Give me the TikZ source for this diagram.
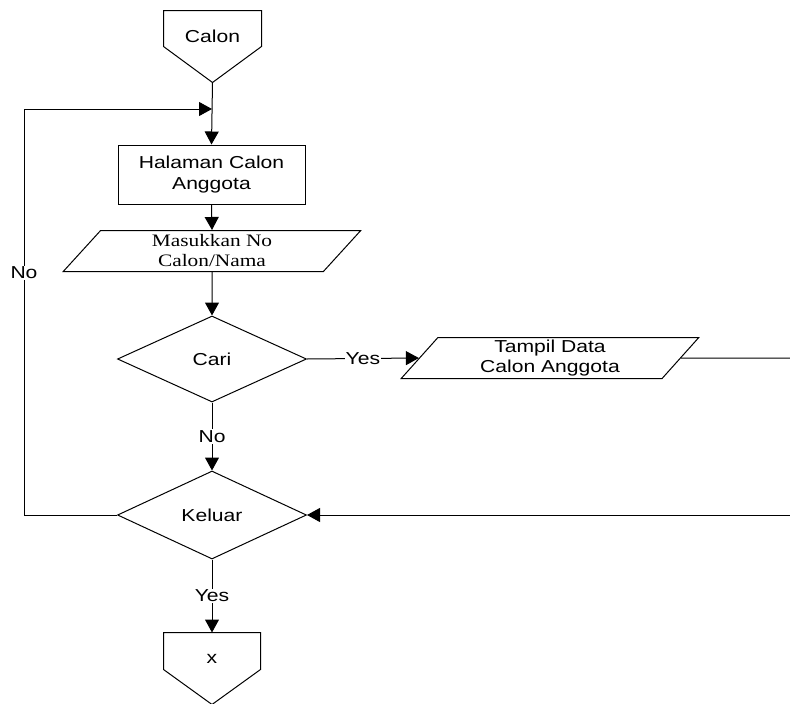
\documentclass[tikz,border=0pt]{standalone}
\usepackage{fontspec}
\setmainfont[FakeStretch=1.22]{Liberation Sans}
\newfontfamily\serifstretch[FakeStretch=1.22]{Liberation Serif}
\usetikzlibrary{shapes.geometric,arrows.meta,calc}
\begin{document}
\begin{tikzpicture}[x=1pt,y=-1pt, line width=1pt,
  every node/.style={font=\fontsize{17.3}{20.5}\selectfont, align=center},
  arr/.style={-{Triangle[length=13pt,width=14pt]}},
  procbox/.style={draw, rectangle, minimum width=187pt, minimum height=59pt, inner sep=0pt},
  decbox/.style={draw, diamond, minimum width=189pt, minimum height=87pt, inner sep=0pt},
  iobox/.style={draw, trapezium, trapezium left angle=58, trapezium right angle=122,
    trapezium stretches=true, minimum width=298pt, minimum height=41pt, inner sep=0pt},
  offpage/.style={minimum width=97pt, minimum height=71pt, inner sep=0pt},
  lbl/.style={fill=white, inner sep=1pt}]
\useasboundingbox (0,0) rectangle (790,704);

% top off-page connector
\node[offpage] (calon) at (212.5,46.5) {};
\draw (calon.north west) -- (calon.north east) -- ($(calon.north east)+(0,36)$)
  -- (calon.south) -- ($(calon.north west)+(0,36)$) -- cycle;
\node (calontxt) at (212.5,36) {Calon};

\coordinate (join) at (212,109);
\node[procbox] (hal) at (211.5,174.5) {Halaman Calon\\Anggota};
\node[iobox, font=\serifstretch\fontsize{17.5}{20}\selectfont] (mas) at (212,251) {Masukkan No\\Calon/Nama};
\node[decbox, minimum height=86pt] (cari) at (212,359) {Cari};
\node[iobox] (tam) at (550,358) {Tampil Data\\Calon Anggota};
\node[decbox, minimum height=88pt] (kel) at (212,515) {Keluar};

% bottom off-page connector
\node[offpage, minimum width=96pt] (xc) at (212,668.5) {};
\draw (xc.north west) -- (xc.north east) -- ($(xc.north east)+(0,37)$)
  -- (xc.south) -- ($(xc.north west)+(0,37)$) -- cycle;
\node (xtxt) at (212,659) {x};

\coordinate (lb) at (24,515);
\coordinate (lt) at (24,109);
\coordinate (r1) at (790,358);
\coordinate (r2) at (790,515);

\draw[arr] (calon.south) -- (hal.north);
\draw[arr] (kel.west) -- (lb) -- node[lbl,pos=0.596]{No} (lt) -- (join);
\draw[arr] (hal.south) -- (mas.north);
\draw[arr] (mas.south) -- (cari.north);
\draw[arr] (cari.east) -- node[lbl]{Yes} (tam.west);
\draw (tam.east) -- (r1);
\draw[arr] (r2) -- (kel.east);
\draw[arr] (cari.south) -- node[lbl]{No} (kel.north);
\draw[arr] (kel.south) -- node[lbl]{Yes} (xc.north);
\end{tikzpicture}
\end{document}
